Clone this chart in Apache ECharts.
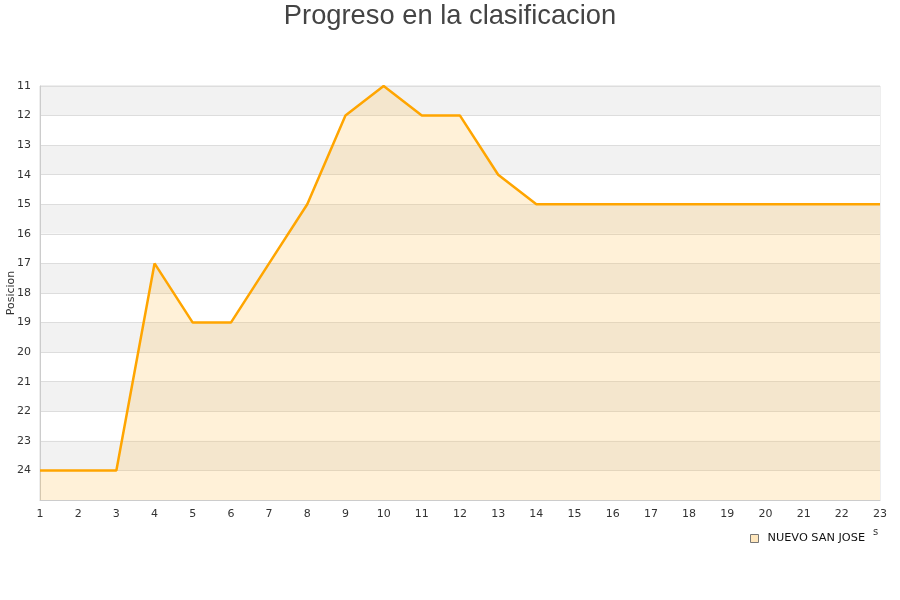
<!DOCTYPE html>
<html>
<head>
<meta charset="utf-8">
<script src="https://cdn.jsdelivr.net/npm/echarts@6/dist/echarts.min.js"></script>
<style>html,body{margin:0;padding:0;background:#fff}#c{width:900px;height:600px}</style>
</head>
<body>
<div id="c"></div>
<script>
const jornadas = ['1','2','3','4','5','6','7','8','9','10','11','12','13','14','15','16','17','18','19','20','21','22','23'];
const posiciones = [24,24,24,17,19,19,17,15,12,11,12,12,14,15,15,15,15,15,15,15,15,15,15];
const seriesName = 'NUEVO SAN JOSE';
const titleText = 'Progreso en la clasificacion';
const yName = 'Posicion';

const chart = echarts.init(document.getElementById('c'), null, {renderer: 'canvas'});
chart.setOption({
  animation: false,
  backgroundColor: '#fff',
  title: {
    text: titleText, left: 'center', top: -2,
    textStyle: {fontFamily: 'Liberation Sans', fontSize: 27.3, fontWeight: 'normal', color: '#444'}
  },
  legend: {
    data: [{name: seriesName, icon: 'rect', itemStyle: {color: '#ffe7bd', borderColor: '#777', borderWidth: 1}}],
    left: 745, top: 528, itemWidth: 8, itemHeight: 8, itemGap: 6,
    textStyle: {fontFamily: 'DejaVu Sans', fontSize: 11.3, color: '#111', padding: [0, 0, 0, 4]}
  },
  graphic: [{type: 'text', left: 873, top: 527, style: {text: 's', fontFamily: 'DejaVu Sans', fontSize: 10, fill: '#333'}}],
  grid: {left: 40, right: 20, top: 86, bottom: 100, containLabel: false, outerBoundsMode: 'none',
    show: true, borderColor: '#ddd', borderWidth: 1, backgroundColor: 'transparent'},
  xAxis: {
    type: 'category', data: jornadas, boundaryGap: false,
    axisLine: {lineStyle: {color: '#ccc'}},
    axisTick: {show: false},
    axisLabel: {color: '#333', fontFamily: 'DejaVu Sans', fontSize: 11, margin: 9},
    splitLine: {show: false}
  },
  yAxis: {
    type: 'value', inverse: true, min: 11, max: 25, interval: 1,
    name: yName, nameLocation: 'middle', nameGap: 23, nameRotate: 90, nameMoveOverlap: false,
    nameTextStyle: {fontFamily: 'DejaVu Sans', fontSize: 11, color: '#333'},
    axisLine: {show: true, lineStyle: {color: '#ccc'}},
    axisTick: {show: false},
    axisLabel: {color: '#333', fontFamily: 'DejaVu Sans', fontSize: 11, margin: 9,
      formatter: v => v === 25 ? '' : String(v)},
    splitLine: {show: true, lineStyle: {color: '#ddd'}},
    splitArea: {show: true, areaStyle: {color: ['#f2f2f2', '#ffffff']}}
  },
  series: [{
    name: seriesName, type: 'line', data: posiciones,
    symbol: 'none', smooth: false,
    lineStyle: {color: '#ffa500', width: 2.5},
    itemStyle: {color: '#ffa500'},
    areaStyle: {color: 'rgba(255,191,72,0.3)', origin: 'end'}
  }]
});
</script>
</body>
</html>
